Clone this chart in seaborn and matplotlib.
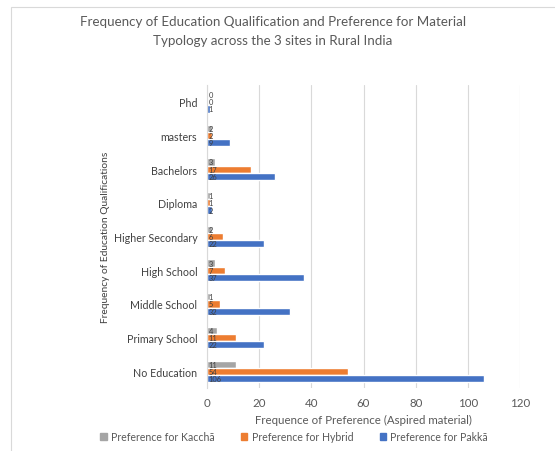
import matplotlib
matplotlib.use("Agg")
import matplotlib.pyplot as plt
import seaborn as sns
import pandas as pd
from matplotlib.patches import Rectangle

categories = ["Phd", "masters", "Bachelors", "Diploma", "Higher Secondary",
              "High School", "Middle School", "Primary School", "No Education"]
kaccha = [0, 2, 3, 1, 2, 3, 1, 4, 11]
hybrid = [0, 2, 17, 1, 6, 7, 5, 11, 54]
pakka = [1, 9, 26, 2, 22, 37, 32, 22, 106]
series_names = ["Preference for Kacchā", "Preference for Hybrid", "Preference for Pakkā"]
colors = ["#A5A5A5", "#ED7D31", "#4472C4"]
xticks = [0, 20, 40, 60, 80, 100, 120]

rows = []
for name, vals in zip(series_names, [kaccha, hybrid, pakka]):
    for c, v in zip(categories, vals):
        rows.append({"Education": c, "Series": name, "Count": v})
df = pd.DataFrame(rows)

sns.set_style("white")
plt.rcParams['font.family'] = ['Lato', 'DejaVu Sans']

fig = plt.figure(figsize=(5.55, 4.52), dpi=100)
ax = fig.add_axes([0.373, 0.139, 0.564, 0.671])

sns.barplot(data=df, y="Education", x="Count", hue="Series", order=categories,
            hue_order=series_names, palette=colors, orient="h", width=0.64,
            gap=0, ax=ax, legend=False, saturation=1)

for cont in ax.containers:
    for p, v in zip(cont.patches, cont.datavalues):
        ax.text(0.6, p.get_y() + p.get_height() / 2, f"{int(v)}",
                ha="left", va="center", fontsize=5.4, color="#404040")

ax.set_xlim(0, 120)
ax.set_xticks(xticks)
ax.set_xticklabels([str(t) for t in xticks], fontsize=8.3, color="#595959")
ax.tick_params(axis="y", labelsize=7.7, labelcolor="#404040", length=0, pad=7)
ax.tick_params(axis="x", length=0, pad=6)
ax.grid(axis="x", color="#D9D9D9", linewidth=0.8)
ax.set_axisbelow(True)
for s in ["top", "right", "bottom"]:
    ax.spines[s].set_visible(False)
ax.spines["left"].set_color("#D9D9D9")
ax.set_xlabel("Frequence of Preference (Aspired material)", fontsize=8.3, color="#595959", labelpad=5)
ax.set_ylabel("Frequency of Education Qualifications", fontsize=7.4, color="#404040")
ax.yaxis.set_label_coords(-0.31, 0.5)

fig.text(0.492, 0.93, "Frequency of Education Qualification and Preference for Material\nTypology across the 3 sites in Rural India",
         ha="center", va="center", fontsize=9.6, color="#595959", linespacing=1.65)

handles = [Rectangle((0, 0), 1, 1, color=c) for c in colors]
fig.legend(handles, series_names, loc="center", bbox_to_anchor=(0.53, 0.031), ncol=3,
           frameon=False, fontsize=7.6, labelcolor="#595959", handlelength=0.6,
           handleheight=0.6, columnspacing=2.5, handletextpad=0.4)

fig.patches.append(Rectangle((0.02, -0.05), 1.2, 1.032, transform=fig.transFigure,
                             fill=False, edgecolor="#D9D9D9", linewidth=0.8))

fig.savefig("out.png", dpi=100)
